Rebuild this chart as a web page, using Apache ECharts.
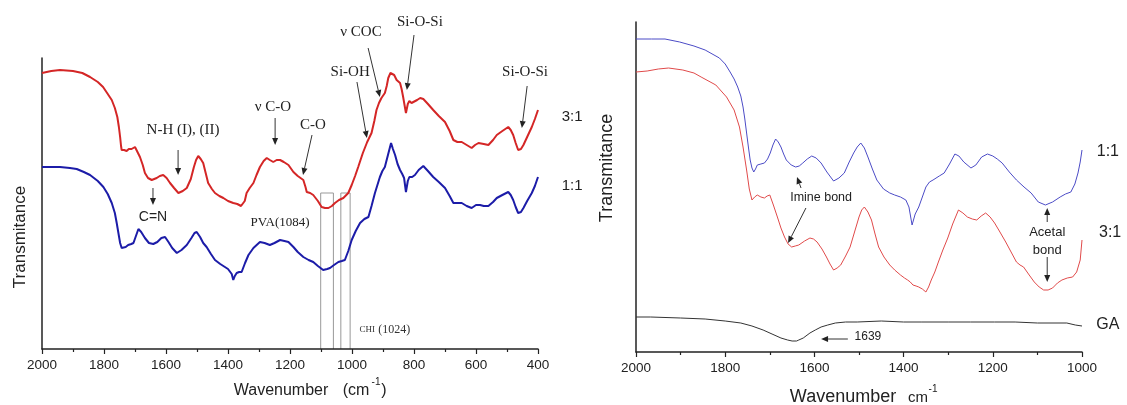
<!DOCTYPE html>
<html><head><meta charset="utf-8">
<script src="https://cdn.jsdelivr.net/npm/echarts@6/dist/echarts.min.js"></script>
<style>html,body{margin:0;padding:0;background:#fff}#c{width:1127px;height:405px}</style>
</head><body><div id="c"></div>
<script>
// ---------- DATA ----------
const leftTicks = [2000,1800,1600,1400,1200,1000,800,600,400];
const rightTicks = [2000,1800,1600,1400,1200,1000];

// Left panel, 3:1 (red)  [wavenumber, transmittance a.u.]
const left31 = [[2000,276],[1970,278],[1942,279],[1900,278],[1870,276],[1845,272],[1820,267],[1803,262],[1790,256],[1775,249],[1765,241],[1757,232],[1752,222],[1748,212],[1745,203],[1743,199],[1735,199],[1727,198],[1720,200],[1711,200],[1700,202],[1695,201],[1684,192],[1675,184],[1668,176],[1658,171],[1646,169],[1638,170],[1630,171],[1620,173],[1609,174],[1598,171],[1587,166],[1574,161],[1560,156],[1546,158],[1533,161],[1520,170],[1510,182],[1503,189],[1496,193],[1488,190],[1480,186],[1472,176],[1464,166],[1452,160],[1442,156],[1428,153],[1415,151],[1400,148],[1383,146],[1370,145],[1364,144],[1358,143],[1353,141],[1346,148],[1340,156],[1330,161],[1318,166],[1308,174],[1297,182],[1285,188],[1275,191],[1265,189],[1254,187],[1243,189],[1232,189],[1220,187],[1205,184],[1189,177],[1175,173],[1157,169],[1150,162],[1146,157],[1135,156],[1125,154],[1110,148],[1098,142],[1087,141],[1076,141],[1065,143],[1055,146],[1042,149],[1028,151],[1012,156],[1001,164],[990,173],[980,182],[965,196],[951,207],[937,216],[928,228],[921,239],[913,246],[905,251],[894,256],[888,263],[883,271],[876,276],[872,278],[864,274],[856,269],[850,268],[845,266],[840,260],[835,252],[830,243],[826,236],[820,245],[815,248],[808,246],[802,246],[790,249],[780,251],[770,250],[755,245],[738,239],[720,233],[700,227],[685,218],[673,209],[660,207],[646,207],[630,204],[614,201],[603,204],[592,206],[575,205],[560,204],[545,209],[533,214],[515,218],[496,222],[488,219],[480,214],[472,206],[464,199],[455,200],[447,204],[435,212],[420,222],[410,230],[400,239]];

// Left panel, 1:1 (blue)
const left11 = [[2000,182],[1970,182],[1942,182],[1910,181],[1888,180],[1865,177],[1845,174],[1820,168],[1802,162],[1788,155],[1775,146],[1765,136],[1759,126],[1753,115],[1748,106],[1743,101],[1738,99],[1730,102],[1722,104],[1712,105],[1705,106],[1697,113],[1689,120],[1680,117],[1668,111],[1655,106],[1641,105],[1628,107],[1615,111],[1603,112],[1592,107],[1580,101],[1565,96],[1550,99],[1533,104],[1518,111],[1508,116],[1501,117],[1490,112],[1480,106],[1469,102],[1455,95],[1442,89],[1425,85],[1410,82],[1400,80],[1394,79],[1388,75],[1383,69],[1378,73],[1372,76],[1364,77],[1356,77],[1345,86],[1334,94],[1318,101],[1297,107],[1282,106],[1265,104],[1250,106],[1232,109],[1218,108],[1205,107],[1189,102],[1175,97],[1157,92],[1140,89],[1125,87],[1110,83],[1093,79],[1080,80],[1071,81],[1058,84],[1044,87],[1033,88],[1023,89],[1012,98],[1001,109],[988,118],[974,126],[960,130],[947,132],[937,143],[926,156],[918,164],[910,172],[902,178],[894,182],[884,194],[874,206],[868,200],[861,194],[853,185],[845,179],[838,175],[832,171],[826,157],[820,168],[815,172],[806,172],[797,174],[785,179],[770,183],[755,178],[738,172],[720,167],[700,161],[685,153],[673,146],[660,146],[646,146],[630,143],[614,141],[600,144],[587,144],[575,143],[560,143],[545,147],[533,151],[515,154],[496,157],[488,154],[480,149],[472,142],[464,136],[455,137],[447,141],[435,148],[420,156],[410,163],[400,172]];

// Right panel, 1:1 (blue)
const right11 = [[2000,313],[1965,313],[1935,313],[1902,310],[1870,306],[1845,302],[1813,294],[1800,288],[1789,280],[1780,273],[1772,265],[1765,256],[1760,245],[1756,233],[1752,219],[1748,205],[1744,192],[1740,184],[1736,180],[1732,183],[1728,187],[1720,188],[1712,189],[1705,193],[1699,199],[1693,207],[1687,213],[1681,210],[1675,205],[1669,198],[1663,192],[1652,187],[1642,185],[1634,186],[1626,189],[1616,193],[1606,196],[1596,194],[1585,189],[1572,180],[1557,171],[1545,174],[1533,179],[1522,190],[1512,199],[1504,205],[1496,209],[1488,204],[1480,195],[1470,183],[1460,172],[1445,163],[1431,159],[1420,157],[1407,155],[1395,152],[1388,145],[1381,127],[1374,138],[1366,145],[1358,155],[1350,165],[1342,170],[1334,172],[1320,176],[1309,179],[1297,188],[1285,198],[1276,196],[1265,190],[1249,184],[1238,187],[1225,195],[1212,198],[1200,196],[1190,193],[1179,189],[1163,180],[1147,172],[1130,165],[1114,159],[1098,150],[1082,147],[1066,150],[1049,155],[1037,158],[1025,160],[1016,168],[1009,179],[1004,190],[1000,202]];

// Right panel, 3:1 (red)
const right31 = [[2000,280],[1975,281],[1950,283],[1927,284],[1895,282],[1870,279],[1854,275],[1821,267],[1797,255],[1780,242],[1768,225],[1760,205],[1752,182],[1746,163],[1740,152],[1734,155],[1728,157],[1720,155],[1712,154],[1706,156],[1700,157],[1692,147],[1683,135],[1675,124],[1667,115],[1659,108],[1651,105],[1643,106],[1635,107],[1622,111],[1610,114],[1602,113],[1594,110],[1583,103],[1573,95],[1565,88],[1557,82],[1549,84],[1541,87],[1530,96],[1520,105],[1510,120],[1500,135],[1494,142],[1488,145],[1480,140],[1472,132],[1464,118],[1456,105],[1444,95],[1431,87],[1420,82],[1407,77],[1398,74],[1391,72],[1385,70],[1379,67],[1372,66],[1366,65],[1358,63],[1350,60],[1344,65],[1338,72],[1330,80],[1322,90],[1312,102],[1301,114],[1290,128],[1277,142],[1267,139],[1257,135],[1246,133],[1236,132],[1226,136],[1216,139],[1206,135],[1196,129],[1184,120],[1171,110],[1159,100],[1147,90],[1139,87],[1131,85],[1120,78],[1107,70],[1096,65],[1086,62],[1076,62],[1066,64],[1055,69],[1045,72],[1033,74],[1021,75],[1012,80],[1004,92],[1000,112]];

// Right panel, GA (black)
const rightGA = [[2000,35],[1967,35],[1900,34],[1845,33],[1800,31],[1765,29],[1740,26],[1715,22],[1695,18],[1675,14],[1660,12],[1650,11],[1640,11],[1635,12],[1625,14],[1610,19],[1598,22],[1585,25],[1570,27],[1553,29],[1530,30],[1504,30],[1450,31],[1400,30],[1359,30],[1300,30],[1250,30],[1196,30],[1150,30],[1100,29],[1034,29],[1015,27],[1000,26]];

// annotations (data coordinates)
const leftNotes = [
  ['N-H (I), (II)',1545,219],['ν C-O',1255,242],['C-O',1126,224],['Si-OH',1006,277],
  ['ν COC',971,317],['Si-O-Si',781,327],['Si-O-Si',442,277]
];
const leftArrows = [[1561,199,1561,174],[1248,231,1248,204],[1129,214,1158,174],[984,267,952,211],[948,301,910,252],[800,314,823,259],[435,263,452,221],[1642,161,1642,144]];
const leftBoxes = [[1101,1060,156],[1036,1006,156]];
const rightArrows = [[1630,164,1639,175],[1619,144,1659,109],[1078,130,1078,144],[1078,95,1078,70],[1525,13,1585,13]];

// ---------- CHART ----------
const SANS = '"Liberation Sans", Arial, sans-serif';
const SERIF = '"Liberation Serif", "Times New Roman", serif';
const chart = echarts.init(document.getElementById('c'), null, {renderer:'canvas'});

function xAxis(ticks, gi){
  return {
    type:'value', gridIndex:gi, inverse:true,
    min:Math.min(...ticks), max:Math.max(...ticks), interval:ticks[0]-ticks[1],
    axisLine:{show:true, onZero:false, lineStyle:{color:'#222', width:1.5}},
    axisTick:{show:true, length:5, lineStyle:{color:'#222', width:1.2}},
    minorTick:{show:true, splitNumber:2, length:3, lineStyle:{color:'#222', width:1.2}},
    axisLabel:{fontSize:13.5, color:'#222', fontFamily:SANS, margin:9, formatter:v => String(v)},
    splitLine:{show:false}
  };
}
function yAxis(max, gi){
  return {
    type:'value', gridIndex:gi, min:0, max:max,
    axisLine:{show:true, lineStyle:{color:'#222', width:1.5}},
    axisTick:{show:false}, axisLabel:{show:false}, splitLine:{show:false}
  };
}
function line(data, gi, color, w){
  return {type:'line', xAxisIndex:gi, yAxisIndex:gi, data:data, showSymbol:false,
    symbol:'none', lineStyle:{color:color, width:w}, silent:true, clip:false};
}

chart.setOption({
  animation:false,
  grid:[
    {left:42, top:58, width:496, height:291},
    {left:636, top:22, width:446, height:330}
  ],
  xAxis:[xAxis(leftTicks,0), xAxis(rightTicks,1)],
  yAxis:[yAxis(291,0), yAxis(330,1)],
  series:[
    line(left31,0,'#d42626',2),
    line(left11,0,'#1c1ca8',2),
    line(right11,1,'#4b4bc6',1),
    line(right31,1,'#e04a4a',1),
    line(rightGA,1,'#333333',1)
  ]
});

function px(g, wn, v){ return chart.convertToPixel({xAxisIndex:g, yAxisIndex:g}, [wn, v]); }
const G = [];
function text(t, x, y, font, opts){
  G.push(Object.assign({type:'text', x:x, y:y, silent:true,
    style:{text:t, font:font, fill:'#222', textAlign:'center', textVerticalAlign:'middle'}}, opts||{}));
}
function arrow(g, a){
  const p1 = px(g,a[0],a[1]), p2 = px(g,a[2],a[3]);
  let dx = p2[0]-p1[0], dy = p2[1]-p1[1]; const L = Math.hypot(dx,dy); dx/=L; dy/=L;
  const hl = 7, hw = 3;
  const b = [p2[0]-dx*hl, p2[1]-dy*hl];
  G.push({type:'line', silent:true, shape:{x1:p1[0], y1:p1[1], x2:b[0], y2:b[1]}, style:{stroke:'#333', lineWidth:1}});
  G.push({type:'polygon', silent:true, shape:{points:[p2,[b[0]-dy*hw,b[1]+dx*hw],[b[0]+dy*hw,b[1]-dx*hw]]}, style:{fill:'#222'}});
}

leftNotes.forEach(n => { const p = px(0,n[1],n[2]); text(n[0], p[0], p[1], '15px '+SERIF); });
leftArrows.forEach(a => arrow(0,a));
leftBoxes.forEach(b => {
  const a1 = px(0,b[0],0), a2 = px(0,b[0],b[2]), a3 = px(0,b[1],b[2]), a4 = px(0,b[1],0);
  G.push({type:'polyline', silent:true, shape:{points:[a1,a2,a3,a4]}, style:{stroke:'#999', lineWidth:1, fill:null}});
});
(function(){
  let p = px(0,1642,132); text('C=N', p[0], p[1], '14px '+SANS);
  p = px(0,1232,126); text('PVA(1084)', p[0], p[1], '13px '+SERIF);
  p = px(0,894,19);
  G.push({type:'text', x:p[0], y:p[1], silent:true, style:{text:'{a|CHI} {b|(1024)}', textAlign:'center', textVerticalAlign:'middle',
    rich:{a:{fontSize:9, fontFamily:SERIF, fill:'#333', color:'#333'}, b:{fontSize:12, fontFamily:SERIF, fill:'#333', color:'#333'}}}});
  p = px(0,290,232); text('3:1', p[0], p[1], '15px '+SANS);
  p = px(0,290,163); text('1:1', p[0], p[1], '15px '+SANS);

  p = px(1,1585,154); text('Imine bond', p[0], p[1], '12.5px '+SANS);
  p = px(1,1078,120); text('Acetal', p[0], p[1], '13px '+SANS);
  p = px(1,1078,102); text('bond', p[0], p[1], '13px '+SANS);
  p = px(1,1480,15); text('1639', p[0], p[1], '12px '+SANS);
  p = px(1,942,200); text('1:1', p[0], p[1], '16px '+SANS);
  p = px(1,937,119); text('3:1', p[0], p[1], '16px '+SANS);
  p = px(1,942,27); text('GA', p[0], p[1], '16px '+SANS);
})();
rightArrows.forEach(a => arrow(1,a));

// axis titles
text('Transmitance', 20, 237, '17px '+SANS, {rotation:Math.PI/2});
text('Transmitance', 607, 168, '18px '+SANS, {rotation:Math.PI/2});
text('Wavenumber', 281, 391, '16px '+SANS);
text('(cm', 356, 391, '16px '+SANS);
text('-1', 376, 382, '10px '+SANS);
text(')', 384, 391, '16px '+SANS);
text('Wavenumber', 843, 397, '18px '+SANS);
text('cm', 918, 398, '15px '+SANS);
text('-1', 933, 389, '10px '+SANS);

chart.setOption({graphic:G});
</script></body></html>
